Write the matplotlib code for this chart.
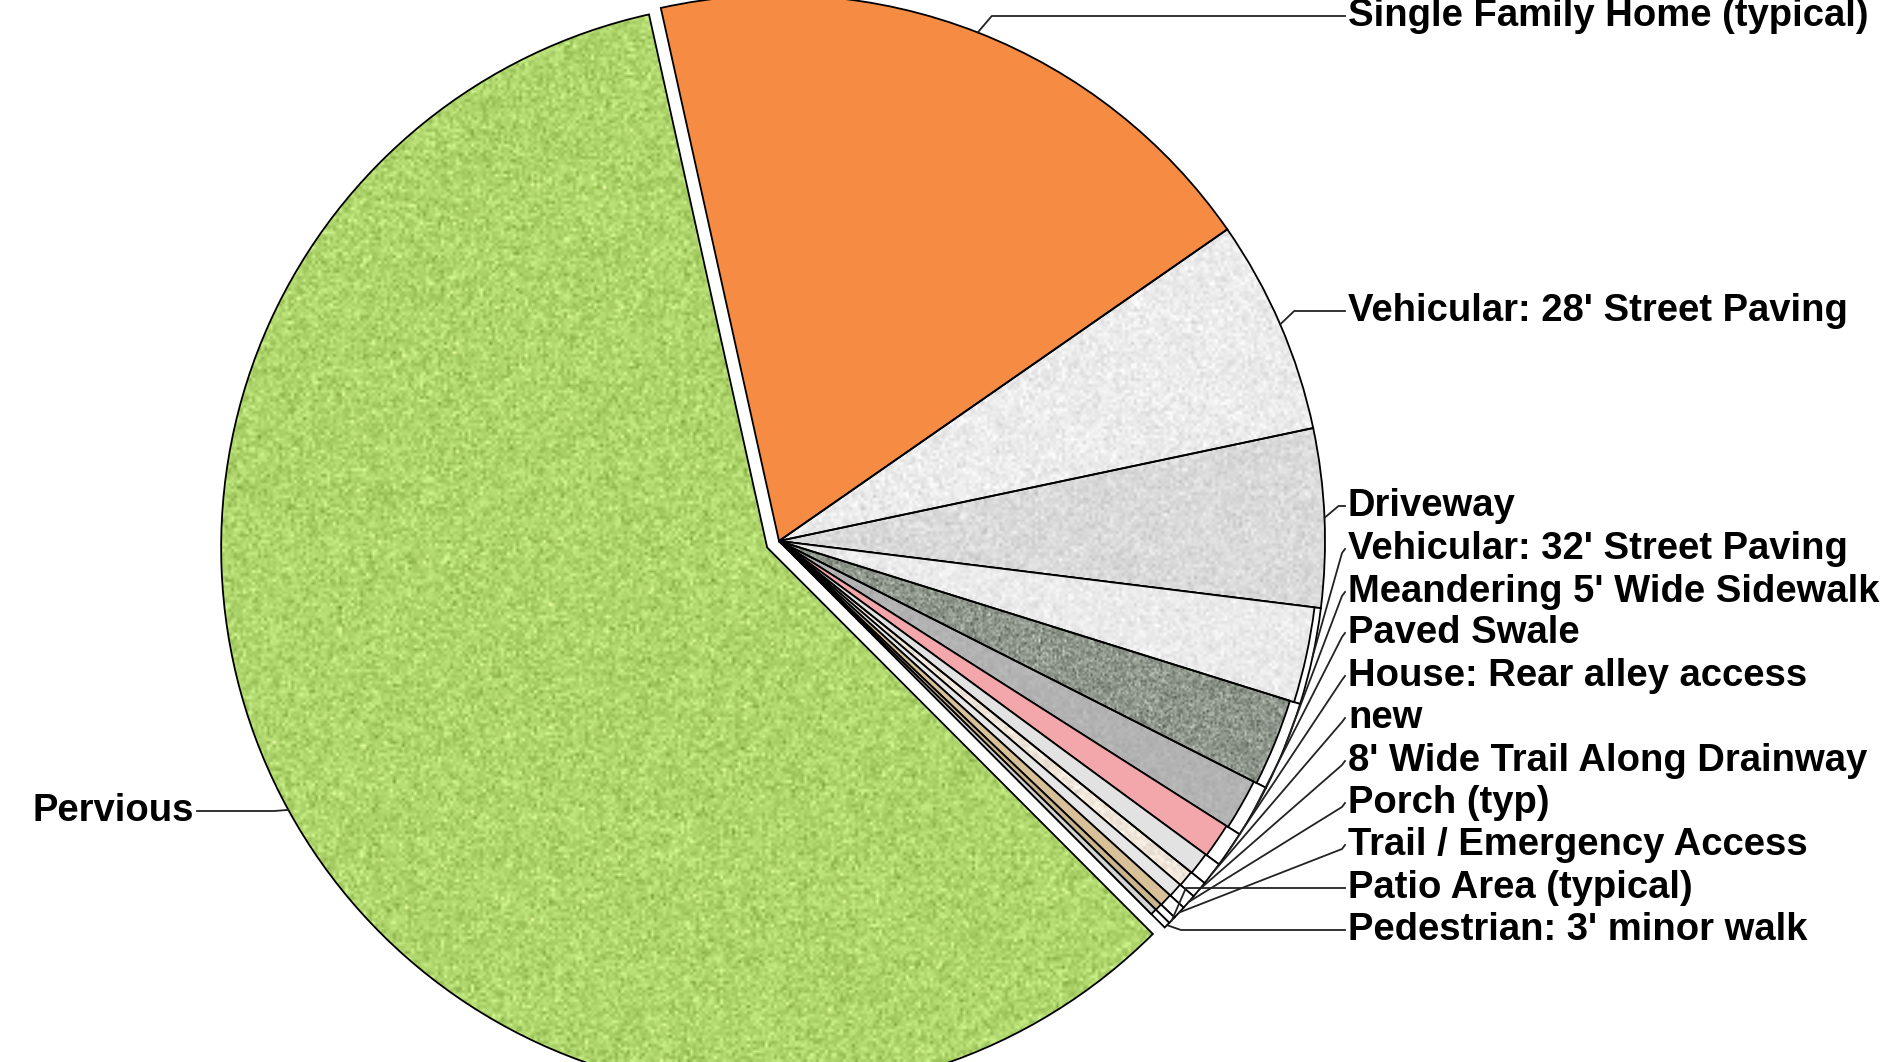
import numpy as np
import matplotlib
import matplotlib.pyplot as plt
from matplotlib.patches import Wedge

# slices, clockwise from the top (share of total area, %)
categories = ["Single Family Home (typical)", "Vehicular: 28' Street Paving", "Driveway",
              "Vehicular: 32' Street Paving", "Meandering 5' Wide Sidewalk", "Paved Swale",
              "House: Rear alley access", "new", "8' Wide Trail Along Drainway", "Porch (typ)",
              "Trail / Emergency Access", "Patio Area (typical)", "Pedestrian: 3' minor walk",
              "Pervious"]
shares = [18.8, 6.35, 5.28, 2.86, 2.64, 1.56, 1.06, 0.69, 0.50, 0.44, 0.39, 0.22, 0.19, 59.0]
colors = ['#f68b44', '#ececec', '#dadada', '#ebebeb', '#8f978c', '#b3b3b3', '#f3a7ab',
          '#e2e2e2', '#f0e6da', '#e6e6e6', '#d8c098', '#c9b48e', '#d4d4d4', '#afd66c']
# texture strength per slice (0 = flat fill)
grain = [0, 0.035, 0.035, 0.03, 0.09, 0.02, 0, 0, 0.04, 0, 0, 0, 0, 0.06]

# layout (pixels, image coords from top)
W, H = 1899, 1062
cx, cy, R = 779, H - 541, 546
label_x = 1348
label_y = [16, 311, 506, 549, 592, 633, 676, 718, 761, 803, 845, 888, 930, 811]

fig = plt.figure(figsize=(W / 100, H / 100), dpi=100)
ax = fig.add_axes([0, 0, 1, 1])

banded = range(3, 13)  # slices drawn with the white outer band
base_fill = ['white' if i in banded else c for i, c in enumerate(colors)]
explode = [0] * 13 + [13.5]
wedges, _ = ax.pie(shares, colors=base_fill, startangle=102.5, counterclock=False,
                   center=(cx, cy), radius=R, explode=explode,
                   wedgeprops=dict(edgecolor='black', linewidth=1.3))

rng = np.random.default_rng(5)
noise_c = rng.normal(size=(H // 3, W // 3))
noise_f = rng.normal(size=(H // 2, W // 2))


def texture(patch, color, amp, noise):
    rgb = np.array(matplotlib.colors.to_rgb(color))
    img = np.clip(rgb + amp * noise[..., None], 0, 1)
    im = ax.imshow(img, extent=(0, W, 0, H), origin='lower',
                   interpolation='bilinear', zorder=patch.get_zorder() - 0.05)
    im.set_clip_path(patch)
    patch.set_facecolor('none')


for i, w in enumerate(wedges):
    patch = w
    if i in banded:
        tm = 0.5 * (w.theta1 + w.theta2)
        band = max(2.0, -26 * np.cos(np.radians(tm - 92)))
        patch = Wedge(w.center, w.r - band, w.theta1, w.theta2, facecolor=colors[i],
                      edgecolor='black', linewidth=1.3, zorder=1.5)
        ax.add_patch(patch)
    if grain[i] > 0:
        texture(patch, colors[i], grain[i], noise_f if i == 4 else noise_c)

# labels with leader lines
for i, w in enumerate(wedges):
    tm = np.radians(0.5 * (w.theta1 + w.theta2))
    px = w.center[0] + w.r * np.cos(tm)
    py = w.center[1] + w.r * np.sin(tm)
    ly = H - label_y[i]
    if i == 13:
        lx, side = 197, -1
    else:
        lx, side = label_x - 3, 1
    if abs(ly - py) < 40:
        xs = [px, px + side * 14, lx]
        ys = [py, ly, ly]
    else:
        xs = [px, lx - 3, lx]
        ys = [py, ly - 4, ly]
    ax.plot(xs, ys, color='#222222', lw=1.3, zorder=3)
    ax.text(lx + side * 3, ly, categories[i], ha='left' if side > 0 else 'right',
            va='center', fontsize=27.5, fontweight='bold',
            family=['Liberation Sans', 'DejaVu Sans'], zorder=4)

ax.set_xlim(0, W)
ax.set_ylim(0, H)
ax.set_aspect('equal')
ax.axis('off')
fig.savefig('out.png', dpi=100)
